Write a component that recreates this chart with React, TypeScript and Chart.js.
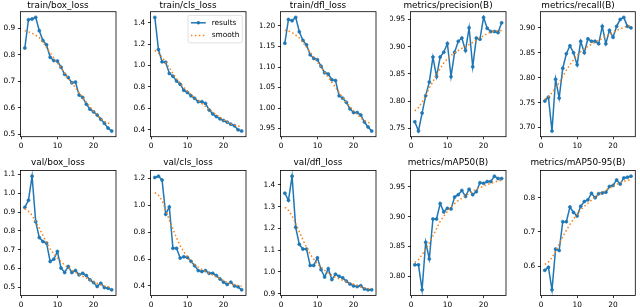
import React, { useEffect, useRef } from "react";
import { Chart, registerables } from "chart.js";

Chart.register(...registerables);

const FONT = "DejaVu Sans";
const BLUE = "#1f77b4";
const ORANGE = "#ff7f0e";

const epochs = [1, 2, 3, 4, 5, 6, 7, 8, 9, 10, 11, 12, 13, 14, 15, 16, 17, 18, 19, 20, 21, 22, 23, 24, 25];
const xTickLabels = ["0", "10", "20"];

const trainBoxLoss = [0.825, 0.931, 0.934, 0.94, 0.89, 0.853, 0.837, 0.79, 0.778, 0.776, 0.753, 0.726, 0.714, 0.694, 0.697, 0.648, 0.639, 0.614, 0.595, 0.585, 0.573, 0.557, 0.542, 0.524, 0.513];
const trainBoxSmooth = [0.89, 0.886, 0.88, 0.873, 0.864, 0.846, 0.826, 0.807, 0.788, 0.769, 0.75, 0.731, 0.712, 0.694, 0.676, 0.657, 0.639, 0.621, 0.604, 0.587, 0.572, 0.559, 0.549, 0.543, 0.539];
const trainBoxTicks = ["0.5", "0.6", "0.7", "0.8", "0.9"];

const trainClsLoss = [1.449, 1.148, 1.034, 1.031, 0.926, 0.9, 0.855, 0.825, 0.769, 0.748, 0.717, 0.693, 0.662, 0.662, 0.646, 0.585, 0.548, 0.523, 0.502, 0.486, 0.471, 0.452, 0.437, 0.4, 0.388];
const trainClsSmooth = [1.14, 1.115, 1.078, 1.03, 0.977, 0.925, 0.877, 0.835, 0.795, 0.758, 0.729, 0.7, 0.672, 0.644, 0.617, 0.59, 0.565, 0.541, 0.516, 0.492, 0.472, 0.455, 0.443, 0.435, 0.431];
const trainClsTicks = ["0.4", "0.6", "0.8", "1.0", "1.2", "1.4"];

const trainDflLoss = [1.158, 1.216, 1.213, 1.221, 1.186, 1.165, 1.154, 1.13, 1.121, 1.118, 1.102, 1.086, 1.083, 1.069, 1.067, 1.03, 1.024, 1.014, 0.998, 0.989, 0.989, 0.983, 0.966, 0.954, 0.944];
const trainDflSmooth = [1.19, 1.188, 1.184, 1.178, 1.171, 1.16, 1.148, 1.136, 1.124, 1.112, 1.1, 1.088, 1.075, 1.063, 1.05, 1.038, 1.026, 1.014, 1.003, 0.993, 0.984, 0.976, 0.969, 0.965, 0.962];
const trainDflTicks = ["0.95", "1.00", "1.05", "1.10", "1.15", "1.20"];

const precision = [0.762, 0.745, 0.778, 0.81, 0.835, 0.881, 0.845, 0.881, 0.89, 0.906, 0.845, 0.89, 0.91, 0.916, 0.893, 0.935, 0.863, 0.916, 0.914, 0.954, 0.934, 0.928, 0.928, 0.926, 0.944];
const precisionSmooth = [0.782, 0.788, 0.798, 0.81, 0.824, 0.836, 0.848, 0.86, 0.87, 0.878, 0.884, 0.889, 0.893, 0.897, 0.9, 0.904, 0.908, 0.912, 0.916, 0.92, 0.924, 0.927, 0.929, 0.93, 0.93];
const precisionTicks = ["0.75", "0.80", "0.85", "0.90", "0.95"];

const recall = [0.753, 0.761, 0.693, 0.797, 0.759, 0.819, 0.848, 0.864, 0.85, 0.826, 0.873, 0.85, 0.878, 0.873, 0.873, 0.868, 0.903, 0.868, 0.895, 0.881, 0.903, 0.917, 0.921, 0.903, 0.9];
const recallSmooth = [0.757, 0.762, 0.77, 0.779, 0.79, 0.802, 0.815, 0.826, 0.836, 0.845, 0.852, 0.858, 0.863, 0.867, 0.871, 0.875, 0.879, 0.883, 0.887, 0.891, 0.895, 0.898, 0.901, 0.903, 0.904];
const recallTicks = ["0.70", "0.75", "0.80", "0.85", "0.90"];

const valBoxLoss = [0.925, 0.963, 1.091, 0.849, 0.764, 0.743, 0.735, 0.637, 0.649, 0.69, 0.602, 0.578, 0.61, 0.578, 0.589, 0.566, 0.574, 0.562, 0.539, 0.525, 0.504, 0.521, 0.498, 0.495, 0.486];
const valBoxSmooth = [0.918, 0.905, 0.882, 0.85, 0.814, 0.775, 0.738, 0.704, 0.677, 0.655, 0.635, 0.618, 0.604, 0.591, 0.579, 0.568, 0.558, 0.549, 0.539, 0.53, 0.521, 0.513, 0.507, 0.502, 0.5];
const valBoxTicks = ["0.5", "0.6", "0.7", "0.8", "0.9", "1.0", "1.1"];

const valClsLoss = [1.207, 1.217, 1.188, 0.934, 0.988, 0.68, 0.68, 0.607, 0.617, 0.612, 0.583, 0.551, 0.514, 0.507, 0.514, 0.494, 0.494, 0.477, 0.452, 0.428, 0.411, 0.428, 0.4, 0.393, 0.371];
const valClsSmooth = [1.094, 1.075, 1.035, 0.965, 0.89, 0.823, 0.758, 0.7, 0.655, 0.617, 0.586, 0.56, 0.54, 0.523, 0.508, 0.494, 0.481, 0.468, 0.454, 0.44, 0.427, 0.416, 0.408, 0.402, 0.399];
const valClsTicks = ["0.4", "0.6", "0.8", "1.0", "1.2"];

const valDflLoss = [1.362, 1.329, 1.44, 1.205, 1.127, 1.105, 1.105, 1.03, 1.03, 1.065, 1.011, 0.977, 1.015, 0.965, 0.99, 0.98, 0.973, 0.958, 0.945, 0.936, 0.933, 0.937, 0.922, 0.918, 0.918];
const valDflSmooth = [1.297, 1.283, 1.258, 1.224, 1.185, 1.148, 1.113, 1.082, 1.058, 1.038, 1.022, 1.008, 0.995, 0.984, 0.975, 0.968, 0.962, 0.956, 0.95, 0.944, 0.938, 0.932, 0.927, 0.924, 0.922];
const valDflTicks = ["0.9", "1.0", "1.1", "1.2", "1.3", "1.4"];

const mAP50 = [0.819, 0.819, 0.777, 0.857, 0.829, 0.896, 0.896, 0.922, 0.908, 0.914, 0.913, 0.933, 0.937, 0.944, 0.934, 0.946, 0.937, 0.942, 0.957, 0.956, 0.959, 0.959, 0.968, 0.964, 0.964];
const mAP50Smooth = [0.823, 0.828, 0.836, 0.845, 0.856, 0.867, 0.88, 0.892, 0.901, 0.909, 0.916, 0.922, 0.927, 0.931, 0.935, 0.939, 0.943, 0.946, 0.949, 0.951, 0.954, 0.956, 0.958, 0.96, 0.961];
const mAP50Ticks = ["0.80", "0.85", "0.90", "0.95"];

const mAP5095 = [0.588, 0.597, 0.531, 0.65, 0.646, 0.73, 0.73, 0.773, 0.757, 0.747, 0.775, 0.789, 0.794, 0.813, 0.8, 0.812, 0.814, 0.816, 0.833, 0.836, 0.852, 0.84, 0.858, 0.86, 0.863];
const mAP5095Smooth = [0.605, 0.612, 0.625, 0.644, 0.665, 0.686, 0.705, 0.722, 0.738, 0.752, 0.764, 0.775, 0.784, 0.793, 0.802, 0.809, 0.816, 0.822, 0.828, 0.833, 0.839, 0.844, 0.848, 0.851, 0.852];
const mAP5095Ticks = ["0.6", "0.7", "0.8"];

const titles = [
  "train/box_loss", "train/cls_loss", "train/dfl_loss", "metrics/precision(B)", "metrics/recall(B)",
  "val/box_loss", "val/cls_loss", "val/dfl_loss", "metrics/mAP50(B)", "metrics/mAP50-95(B)",
];
const resultSeries = [trainBoxLoss, trainClsLoss, trainDflLoss, precision, recall, valBoxLoss, valClsLoss, valDflLoss, mAP50, mAP5095];
const smoothSeries = [trainBoxSmooth, trainClsSmooth, trainDflSmooth, precisionSmooth, recallSmooth, valBoxSmooth, valClsSmooth, valDflSmooth, mAP50Smooth, mAP5095Smooth];
const yTickSets = [trainBoxTicks, trainClsTicks, trainDflTicks, precisionTicks, recallTicks, valBoxTicks, valClsTicks, valDflTicks, mAP50Ticks, mAP5095Ticks];
const legendPanel = 1;

// layout (px)
const TICK_FS = 7.4;
const TITLE_FS = 8.9;
const Y_AXIS_W = 20.5;
const PLOT_W = 95.5;
const PLOT_H = 125;

const framePlugin = {
  id: "mplFrame",
  afterDatasetsDraw(chart: any) {
    const a = chart.chartArea;
    const ctx = chart.ctx;
    ctx.save();
    ctx.strokeStyle = "#000";
    ctx.lineWidth = 0.8;
    ctx.strokeRect(a.left, a.top, a.right - a.left, a.bottom - a.top);
    ctx.restore();
  },
};

const legendPlugin = {
  id: "mplLegend",
  afterDraw(chart: any, _args: any, opts: any) {
    if (!opts || !opts.show) return;
    const ctx = chart.ctx;
    const a = chart.chartArea;
    const fs = TICK_FS;
    ctx.save();
    ctx.font = `${fs}px "${FONT}"`;
    const items = [chart.data.datasets[1], chart.data.datasets[0]];
    const textW = Math.max(...items.map((d: any) => ctx.measureText(d.label).width));
    const pad = 0.4 * fs;
    const handleLen = 2 * fs;
    const handlePad = 0.8 * fs;
    const rowH = 8.9;
    const spacing = 0.5 * fs;
    const w = pad * 2 + handleLen + handlePad + textW;
    const h = pad * 2 + rowH * 2 + spacing;
    const x = a.right - 0.5 * fs - w;
    const y = a.top + 0.5 * fs;
    ctx.beginPath();
    if (ctx.roundRect) ctx.roundRect(x, y, w, h, 0.2 * fs);
    else ctx.rect(x, y, w, h);
    ctx.fillStyle = "rgba(255,255,255,0.8)";
    ctx.fill();
    ctx.strokeStyle = "#cccccc";
    ctx.lineWidth = 0.6;
    ctx.stroke();
    items.forEach((d: any, i: number) => {
      const cy = y + pad + rowH / 2 + i * (rowH + spacing);
      const hx = x + pad;
      ctx.beginPath();
      ctx.strokeStyle = d.borderColor;
      ctx.lineWidth = d.borderWidth;
      ctx.setLineDash(d.borderDash || []);
      ctx.lineCap = "butt";
      ctx.moveTo(hx, cy);
      ctx.lineTo(hx + handleLen, cy);
      ctx.stroke();
      ctx.setLineDash([]);
      if (d.pointRadius > 0) {
        ctx.beginPath();
        ctx.fillStyle = d.borderColor;
        ctx.arc(hx + handleLen / 2, cy, d.pointRadius + 0.3, 0, Math.PI * 2);
        ctx.fill();
      }
      ctx.fillStyle = "#000";
      ctx.textAlign = "left";
      ctx.textBaseline = "middle";
      ctx.fillText(d.label, hx + handleLen + handlePad, cy);
    });
    ctx.restore();
  },
};

function Panel({ index }: { index: number }) {
  const ref = useRef<HTMLCanvasElement>(null);
  const col = index % 5;
  const row = Math.floor(index / 5);
  const left = col * 130;
  const top = row === 0 ? 0 : 153;
  const width = col < 4 ? 130 : 120;
  const height = row === 0 ? 153 : 154;
  const titleH = row === 0 ? 11.7 : 17.5;
  const titlePadTop = row === 0 ? 0 : 4.2;
  const xAxisH = height - titleH - PLOT_H;
  const padRight = width - Y_AXIS_W - PLOT_W;

  useEffect(() => {
    const res = resultSeries[index];
    const sm = smoothSeries[index];
    const yLabels = yTickSets[index];
    const yVals = yLabels.map((s) => parseFloat(s));
    const xVals = xTickLabels.map((s) => parseFloat(s));
    const all = res.concat(sm);
    const lo = Math.min(...all);
    const hi = Math.max(...all);
    const yMin = lo - 0.05 * (hi - lo);
    const yMax = hi + 0.05 * (hi - lo);
    const eMin = epochs[0];
    const eMax = epochs[epochs.length - 1];
    const xMin = eMin - 0.05 * (eMax - eMin);
    const xMax = eMax + 0.05 * (eMax - eMin);

    const tickFont = { family: FONT, size: TICK_FS };
    const grid = {
      display: true,
      drawOnChartArea: false,
      drawTicks: true,
      tickLength: 2.6,
      tickColor: "#000",
      tickWidth: 0.8,
      color: "#000",
    };

    const chart = new Chart(ref.current as HTMLCanvasElement, {
      type: "line",
      data: {
        datasets: [
          {
            label: "smooth",
            data: epochs.map((e, i) => ({ x: e, y: sm[i] })),
            borderColor: ORANGE,
            backgroundColor: ORANGE,
            borderWidth: 1.5,
            borderDash: [1.5, 2.45],
            borderCapStyle: "butt",
            pointRadius: 0,
            fill: false,
            order: 0,
          } as any,
          {
            label: "results",
            data: epochs.map((e, i) => ({ x: e, y: res[i] })),
            borderColor: BLUE,
            backgroundColor: BLUE,
            borderWidth: 1.5,
            pointRadius: 1.5,
            pointBorderWidth: 0.7,
            pointBackgroundColor: BLUE,
            pointBorderColor: BLUE,
            fill: false,
            order: 1,
          } as any,
        ],
      },
      options: {
        responsive: false,
        animation: false,
        events: [],
        layout: { padding: { left: 0, right: padRight, top: 0, bottom: 0 } },
        plugins: {
          legend: { display: false },
          tooltip: { enabled: false },
          title: {
            display: true,
            text: titles[index],
            color: "#000",
            font: { family: FONT, size: TITLE_FS, weight: "normal", lineHeight: 1.2 },
            padding: { top: titlePadTop, bottom: titleH - TITLE_FS * 1.2 - titlePadTop },
          },
          mplLegend: { show: index === legendPanel },
        } as any,
        scales: {
          x: {
            type: "linear",
            min: xMin,
            max: xMax,
            afterBuildTicks: (ax: any) => {
              ax.ticks = xVals.map((v) => ({ value: v }));
            },
            afterFit: (ax: any) => {
              ax.height = xAxisH;
            },
            ticks: {
              callback: (_v: any, i: number) => xTickLabels[i],
              font: tickFont,
              color: "#000",
              padding: 2.6,
              maxRotation: 0,
              autoSkip: false,
            },
            grid,
            border: { display: false },
          },
          y: {
            type: "linear",
            min: yMin,
            max: yMax,
            afterBuildTicks: (ax: any) => {
              ax.ticks = yVals.map((v) => ({ value: v }));
            },
            afterFit: (ax: any) => {
              ax.width = Y_AXIS_W;
            },
            ticks: {
              callback: (_v: any, i: number) => yLabels[i],
              font: tickFont,
              color: "#000",
              padding: 2.6,
              autoSkip: false,
            },
            grid,
            border: { display: false },
          },
        },
      } as any,
      plugins: [framePlugin, legendPlugin],
    });
    return () => chart.destroy();
  }, []);

  return (
    <canvas
      ref={ref}
      width={width}
      height={height}
      style={{ position: "absolute", left, top, width, height }}
    />
  );
}

export default function App() {
  return (
    <div
      style={{
        position: "fixed",
        left: 0,
        top: 0,
        width: 640,
        height: 307,
        background: "#fff",
        overflow: "hidden",
      }}
    >
      {titles.map((_t, i) => (
        <Panel key={i} index={i} />
      ))}
    </div>
  );
}
